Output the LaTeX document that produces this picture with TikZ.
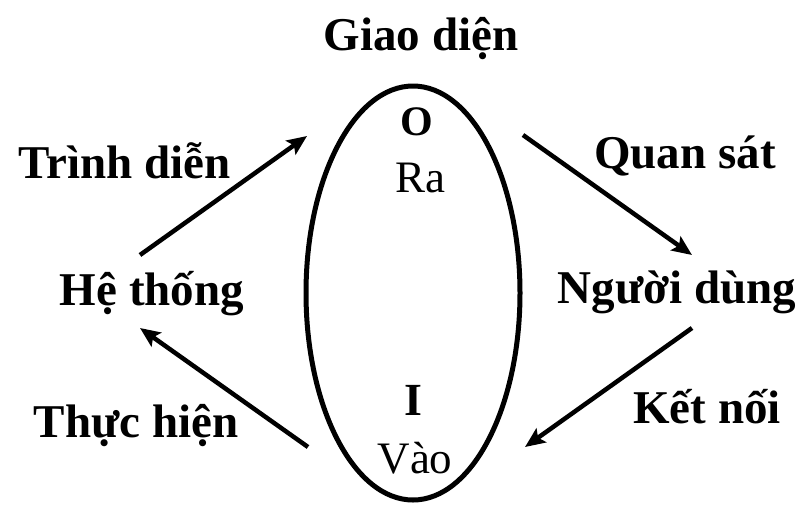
\documentclass[tikz,border=0pt]{standalone}
\usepackage{fontspec}
\setmainfont{Liberation Serif}
\usetikzlibrary{arrows.meta}
\tikzset{
  lbl/.style={font=\fontsize{47}{50}\selectfont\bfseries, inner sep=0pt, anchor=base},
  reg/.style={font=\fontsize{45}{50}\selectfont, inner sep=0pt, anchor=base},
  arr/.style={line width=4.5pt, -{Stealth[length=20pt,width=17pt,inset=4pt]}},
}
\begin{document}
\begin{tikzpicture}[x=1pt,y=-1pt]
\useasboundingbox (0,0) rectangle (805,507);
\draw[line width=5pt] (413,293) ellipse [x radius=107, y radius=207];
\node[lbl] (giao) at (421,50) {Giao diện};
\node[lbl, font=\fontsize{42}{45}\selectfont\bfseries] (o) at (417,135) {O};
\node[reg] (ra) at (420,192) {Ra};
\node[lbl, font=\fontsize{46}{48}\selectfont\bfseries] (i) at (413,415) {I};
\node[reg] (vao) at (415,473) {Vào};
\node[lbl] (trinh) at (125,178) {Trình diễn};
\node[lbl] (he) at (152,305) {Hệ thống};
\node[lbl] (thuc) at (136,437) {Thực hiện};
\node[lbl] (quan) at (685,168) {Quan sát};
\node[lbl] (nguoi) at (677,303) {Người dùng};
\node[lbl] (ket) at (707,423) {Kết nối};
\coordinate (a1s) at (140,255); \coordinate (a1e) at (307,136);
\coordinate (a2s) at (308,447); \coordinate (a2e) at (140,328);
\coordinate (a3s) at (523,135); \coordinate (a3e) at (692,255);
\coordinate (a4s) at (692,328); \coordinate (a4e) at (525,447);
\draw[arr] (a1s) -- (a1e);
\draw[arr] (a2s) -- (a2e);
\draw[arr] (a3s) -- (a3e);
\draw[arr] (a4s) -- (a4e);
\end{tikzpicture}
\end{document}
